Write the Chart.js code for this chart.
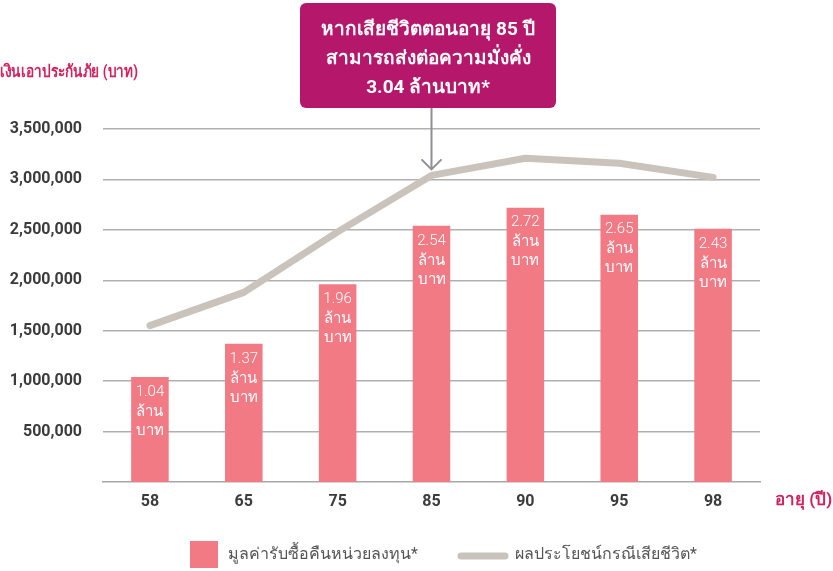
<!DOCTYPE html>
<html>
<head>
<meta charset="utf-8">
<script src="https://cdn.jsdelivr.net/npm/chart.js@4"></script>
<style>
  html, body { margin: 0; padding: 0; background: #fff; }
  #wrap { position: relative; width: 833px; height: 571px; }
</style>
</head>
<body>
<div id="wrap"><canvas id="chart" width="833" height="571"></canvas></div>
<script>
// Ages (x categories)
const ages = ['58', '65', '75', '85', '90', '95', '98'];
// Buy-back value of units (bars), in baht
const buybackValues = [1040000, 1370000, 1960000, 2540000, 2720000, 2650000, 2510000];
// Bar text labels (million baht)
const buybackLabels = ['1.04', '1.37', '1.96', '2.54', '2.72', '2.65', '2.43'];
// Death benefit (line), in baht
const deathBenefit = [1550000, 1880000, 2480000, 3040000, 3210000, 3160000, 3020000];
// Y tick values
const yTicks = [500000, 1000000, 1500000, 2000000, 2500000, 3000000, 3500000];

const calloutLines = ['หากเสียชีวิตตอนอายุ 85 ปี', 'สามารถส่งต่อความมั่งคั่ง', '3.04 ล้านบาท*'];
const calloutIndex = 3;

const FONT = 'Roboto, "Noto Sans", "DejaVu Sans", sans-serif';
const barColor = '#f27a84';
const lineColor = '#c9c3bc';
const accent = '#d2215e';

// Labels inside bars, axis titles, callout and legend
const extras = {
  id: 'extras',
  afterDatasetsDraw(chart) {
    const ctx = chart.ctx;
    const x = chart.scales.x, y = chart.scales.y;
    ctx.save();

    // text in bars
    ctx.fillStyle = '#fff';
    ctx.textAlign = 'center';
    ctx.textBaseline = 'middle';
    ctx.font = '300 15px ' + FONT;
    chart.getDatasetMeta(0).data.forEach((bar, i) => {
      const cx = bar.x, top = bar.y;
      ctx.fillText(buybackLabels[i], cx, top + 15);
      ctx.fillText('ล้าน', cx, top + 35);
      ctx.fillText('บาท', cx, top + 54);
    });

    // y axis title (narrow face, cut at left edge)
    ctx.fillStyle = accent;
    ctx.font = 'bold 17px ' + FONT;
    ctx.textAlign = 'right';
    ctx.save();
    ctx.translate(138, 73);
    ctx.scale(0.8, 1);
    ctx.fillText('จำนวนเงินเอาประกันภัย (บาท)', 0, 0);
    ctx.restore();

    // x axis title
    ctx.textAlign = 'left';
    ctx.fillText('อายุ (ปี)', 775, 501);

    // callout arrow
    const px = x.getPixelForValue(calloutIndex);
    const py = y.getPixelForValue(deathBenefit[calloutIndex]);
    ctx.strokeStyle = '#8f8f94';
    ctx.lineWidth = 2;
    ctx.beginPath();
    ctx.moveTo(px, 108);
    ctx.lineTo(px, py - 6);
    ctx.moveTo(px - 10, py - 16);
    ctx.lineTo(px, py - 6);
    ctx.lineTo(px + 10, py - 16);
    ctx.stroke();

    // callout box
    ctx.fillStyle = '#b5186a';
    ctx.beginPath();
    ctx.roundRect(300, 3, 256, 105, 6);
    ctx.fill();
    ctx.fillStyle = '#fff';
    ctx.textAlign = 'center';
    ctx.font = 'bold 19px ' + FONT;
    calloutLines.forEach((t, i) => ctx.fillText(t, 428, 30 + i * 29));

    // legend
    ctx.fillStyle = barColor;
    ctx.fillRect(190, 541, 28, 27);
    ctx.fillStyle = '#555';
    ctx.font = '16px ' + FONT;
    ctx.textAlign = 'left';
    ctx.fillText(chart.data.datasets[0].label, 228, 555);
    ctx.strokeStyle = lineColor;
    ctx.lineWidth = 7;
    ctx.lineCap = 'round';
    ctx.beginPath();
    ctx.moveTo(461, 556);
    ctx.lineTo(505, 556);
    ctx.stroke();
    ctx.fillText(chart.data.datasets[1].label, 515, 555);

    ctx.restore();
  }
};

new Chart(document.getElementById('chart'), {
  type: 'bar',
  data: {
    labels: ages,
    datasets: [
      {
        type: 'bar',
        label: 'มูลค่ารับซื้อคืนหน่วยลงทุน*',
        data: buybackValues,
        backgroundColor: barColor,
        barPercentage: 0.4,
        categoryPercentage: 1,
        order: 2
      },
      {
        type: 'line',
        label: 'ผลประโยชน์กรณีเสียชีวิต*',
        data: deathBenefit,
        borderColor: lineColor,
        borderWidth: 7,
        borderCapStyle: 'round',
        borderJoinStyle: 'round',
        tension: 0,
        pointRadius: 0,
        order: 1
      }
    ]
  },
  options: {
    responsive: false,
    animation: false,
    layout: { padding: { top: 129, right: 73, left: 0, bottom: 0 } },
    plugins: {
      legend: { display: false },
      tooltip: { enabled: false }
    },
    scales: {
      x: {
        grid: { display: false, drawTicks: false },
        border: { color: '#a8a8a8', width: 1.5 },
        ticks: { color: '#3b3b3b', font: { family: FONT, size: 16, weight: 'bold' }, padding: 10 },
        afterFit: s => { s.height = 89; }
      },
      y: {
        min: 0,
        max: 3500000,
        afterBuildTicks: s => { s.ticks = yTicks.map(v => ({ value: v })); },
        grid: { color: '#b0b0b0', lineWidth: 1.5, drawTicks: false },
        border: { display: false },
        ticks: {
          color: '#3b3b3b',
          padding: 21,
          font: { family: FONT, size: 16, weight: 'bold' },
          callback: v => v.toLocaleString('en-US')
        },
        afterFit: s => { s.width = 103; }
      }
    }
  },
  plugins: [extras]
});
</script>
</body>
</html>
